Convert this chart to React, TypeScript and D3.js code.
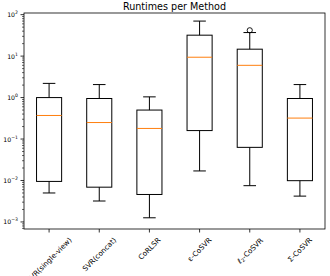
import React, { useEffect, useRef } from 'react';
import * as d3 from 'd3';

// runtimes (seconds) per method, box statistics
const methods = ['SVR(single-view)', 'SVR(concat)', 'CoRLSR', 'ε-CoSVR', 'ℓ2-CoSVR', 'Σ-CoSVR'];
const whiskerLow = [0.005, 0.0032, 0.00126, 0.017, 0.0075, 0.0042];
const q1 = [0.0095, 0.0069, 0.0046, 0.16, 0.063, 0.0099];
const medians = [0.37, 0.25, 0.18, 9.4, 6.0, 0.32];
const q3 = [1.0, 0.95, 0.5, 32, 14.7, 0.95];
const whiskerHigh = [2.2, 2.06, 1.04, 70, 37, 2.06];
const fliers: number[][] = [[], [], [], [], [42], []];
const yTicks = [-3, -2, -1, 0, 1, 2];

const W = 330, H = 276;
const m = { left: 24, right: 325, top: 13, bottom: 229 };
const font = 'DejaVu Sans, sans-serif';

export default function App() {
  const ref = useRef<SVGSVGElement>(null);

  useEffect(() => {
    const svg = d3.select(ref.current);
    svg.selectAll('*').remove();

    const x = d3.scaleLinear().domain([0.5, 6.5]).range([m.left, m.right]);
    const y = d3.scaleLog().domain([Math.pow(10, -3.17), Math.pow(10, 2.04)]).range([m.bottom, m.top]);
    const bw = (x(1.25) - x(1)) ; // half width of a box (0.5 units wide)

    const g = svg.append('g');

    methods.forEach((name, i) => {
      const cx = x(i + 1);
      const box = g.append('g');
      // whiskers
      box.append('line').attr('x1', cx).attr('x2', cx).attr('y1', y(q3[i])).attr('y2', y(whiskerHigh[i]));
      box.append('line').attr('x1', cx).attr('x2', cx).attr('y1', y(q1[i])).attr('y2', y(whiskerLow[i]));
      box.append('line').attr('x1', cx - bw / 2).attr('x2', cx + bw / 2).attr('y1', y(whiskerHigh[i])).attr('y2', y(whiskerHigh[i]));
      box.append('line').attr('x1', cx - bw / 2).attr('x2', cx + bw / 2).attr('y1', y(whiskerLow[i])).attr('y2', y(whiskerLow[i]));
      box.append('rect')
        .attr('x', cx - bw).attr('width', 2 * bw)
        .attr('y', y(q3[i])).attr('height', y(q1[i]) - y(q3[i]))
        .attr('fill', 'none');
      box.selectAll('line,rect').attr('stroke', '#000').attr('stroke-width', 1);
      box.append('line')
        .attr('x1', cx - bw).attr('x2', cx + bw)
        .attr('y1', y(medians[i])).attr('y2', y(medians[i]))
        .attr('stroke', '#ff7f0e').attr('stroke-width', 1);
      box.selectAll('circle.flier').data(fliers[i]).join('circle')
        .attr('cx', cx).attr('cy', d => y(d)).attr('r', 2.6)
        .attr('fill', 'none').attr('stroke', '#000').attr('stroke-width', 0.9);
    });

    // frame
    svg.append('rect')
      .attr('x', m.left).attr('y', m.top)
      .attr('width', m.right - m.left).attr('height', m.bottom - m.top)
      .attr('fill', 'none').attr('stroke', '#000').attr('stroke-width', 0.8);

    // y axis: major and minor log ticks
    const ya = svg.append('g');
    yTicks.forEach(p => {
      const v = Math.pow(10, p);
      ya.append('line').attr('x1', m.left - 3.5).attr('x2', m.left).attr('y1', y(v)).attr('y2', y(v))
        .attr('stroke', '#000').attr('stroke-width', 0.8);
      const t = ya.append('text')
        .attr('x', m.left - 6).attr('y', y(v) + 2.5)
        .attr('text-anchor', 'end').attr('font-family', font).attr('font-size', 6.2).attr('fill', '#000');
      t.append('tspan').text('10');
      t.append('tspan').attr('dy', -3).attr('font-size', 4.6).text(p < 0 ? '\u2212' + Math.abs(p) : String(p));
      for (let k = 2; k <= 9; k++) {
        const mv = k * v;
        if (y(mv) < m.top) continue;
        ya.append('line').attr('x1', m.left - 2).attr('x2', m.left).attr('y1', y(mv)).attr('y2', y(mv))
          .attr('stroke', '#000').attr('stroke-width', 0.6);
      }
    });
    for (let k = 7; k <= 9; k++) {
      const mv = k * 1e-4;
      if (y(mv) <= m.bottom) ya.append('line').attr('x1', m.left - 2).attr('x2', m.left).attr('y1', y(mv)).attr('y2', y(mv))
        .attr('stroke', '#000').attr('stroke-width', 0.6);
    }

    // x axis ticks and rotated labels
    const xa = svg.append('g');
    methods.forEach((name, i) => {
      const cx = x(i + 1);
      xa.append('line').attr('x1', cx).attr('x2', cx).attr('y1', m.bottom).attr('y2', m.bottom + 3.5)
        .attr('stroke', '#000').attr('stroke-width', 0.8);
      const t = xa.append('text')
        .attr('text-anchor', 'middle').attr('dominant-baseline', 'central')
        .attr('font-family', font).attr('font-size', 7.2).attr('fill', '#000');
      if (name.startsWith('ℓ2')) {
        t.append('tspan').text('ℓ');
        t.append('tspan').attr('font-size', 5).attr('dy', 2).text('2');
        t.append('tspan').attr('dy', -2).text(name.slice(2));
      } else {
        t.text(name);
      }
      const w = (t.node() as SVGTextElement).getComputedTextLength();
      const h = 7.2 * 1.1;
      const cy = m.bottom + 7 + (w + h) / (2 * Math.SQRT2);
      t.attr('transform', `translate(${cx},${cy}) rotate(-45)`);
    });

    svg.append('text')
      .attr('x', (m.left + m.right) / 2).attr('y', 9.5)
      .attr('text-anchor', 'middle').attr('font-family', font).attr('font-size', 9.6).attr('fill', '#000')
      .text('Runtimes per Method');
  }, []);

  return (
    <svg ref={ref} width={W} height={H} style={{ position: 'absolute', left: 0, top: 0, background: '#fff' }} />
  );
}
